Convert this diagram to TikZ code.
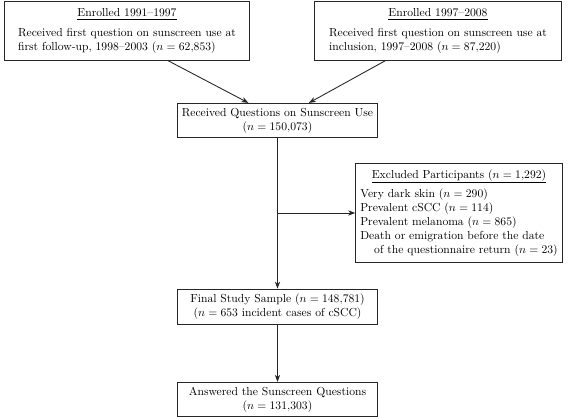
\documentclass[tikz,border=0pt]{standalone}
\usepackage{amsmath}
\usepackage{tikz}
\usetikzlibrary{calc,positioning,arrows.meta}

\begin{document}
\begin{tikzpicture}[x=0.3023cm,y=-0.3023cm,
	box/.style={draw=black!85,line width=0.75pt,rectangle,inner sep=4pt,align=center},
	arr/.style={-{Stealth[length=6pt,width=4.5pt,inset=1.8pt]},line width=0.75pt,black!85}]
	\useasboundingbox (0,0) rectangle (56.8,41.7);
	% the two cohorts
	\node[box,minimum width=211pt,minimum height=50pt] (early) at (12.7,3.1) {\begin{tabular}{@{}l@{}}\multicolumn{1}{c}{\underline{Enrolled 1991--1997}}\\[5pt] Received first question on sunscreen use at\\ first follow-up, 1998--2003 ($n = 62{,}853$)\end{tabular}};
	\node[box,minimum width=213pt,minimum height=50pt] (late) at (43.8,3.1) {\begin{tabular}{@{}l@{}}\multicolumn{1}{c}{\underline{Enrolled 1997--2008}}\\[5pt] Received first question on sunscreen use at\\ inclusion, 1997--2008 ($n = 87{,}220$)\end{tabular}};
	% main column
	\node[box,minimum width=172pt,minimum height=28.4pt] (quest) at (27.75,12.05) {Received Questions on Sunscreen Use\\($n = 150{,}073$)};
	\node[box,minimum width=172pt,minimum height=28.4pt] (final) at (27.75,30.65) {Final Study Sample ($n = 148{,}781$)\\($n = 653$ incident cases of cSCC)};
	\node[box,minimum width=172pt,minimum height=28.4pt] (answ) at (27.75,39.95) {Answered the Sunscreen Questions\\($n = 131{,}303$)};
	% exclusions
	\node[box,minimum width=177pt,minimum height=80.8pt] (excl) at (45.9,21.3) {\begin{tabular}{@{}l@{}}\multicolumn{1}{c}{\underline{Excluded Participants ($n = 1{,}292$)}}\\[5pt] Very dark skin ($n = 290$)\\ Prevalent cSCC ($n = 114$)\\ Prevalent melanoma ($n = 865$)\\ Death or emigration before the date\\ \hspace*{1.2em}of the questionnaire return ($n = 23$)\end{tabular}};
	\draw[arr] ([xshift=35pt]early.south) -- ([xshift=-25pt]quest.north);
	\draw[arr] ([xshift=-45pt]late.south) -- ([xshift=27pt]quest.north);
	\draw[arr] (quest) -- (final);
	\coordinate (split) at (quest.south |- excl.west);
	\draw[arr] (split) -- (excl.west);
	\draw[arr] (final) -- (answ);
\end{tikzpicture}
\end{document}
